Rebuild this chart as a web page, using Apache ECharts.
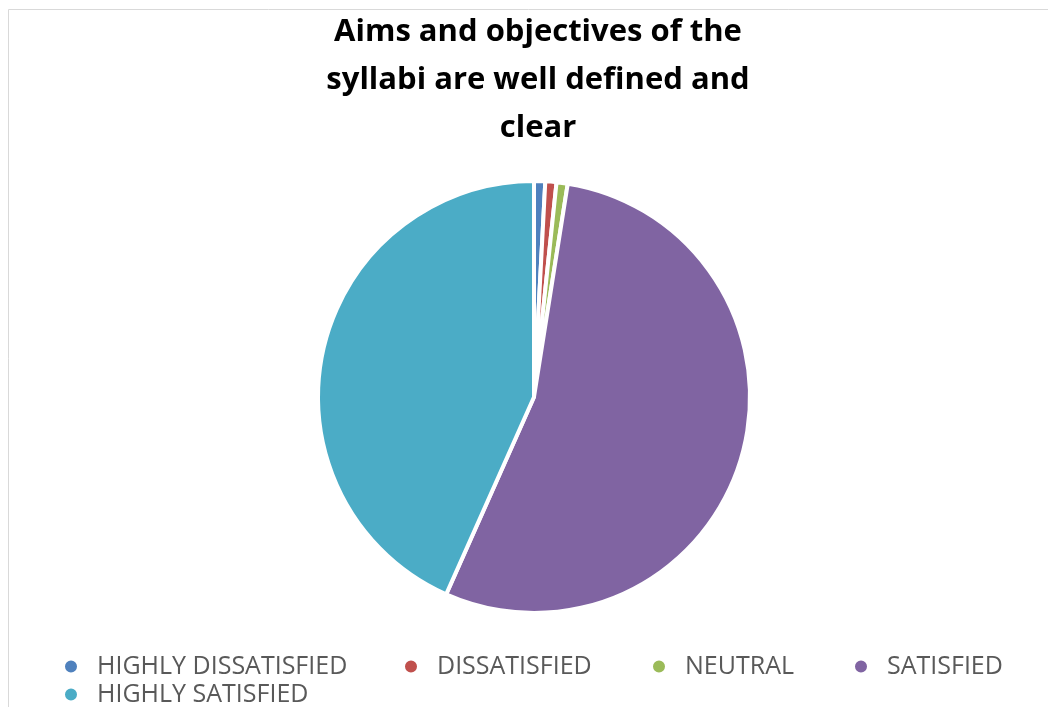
<!DOCTYPE html>
<html><head><meta charset="utf-8">
<script src="https://cdn.jsdelivr.net/npm/echarts@6/dist/echarts.min.js"></script>
<style>html,body{margin:0;padding:0;background:#fff}#c{width:1048px;height:707px}</style>
</head><body><div id="c"></div>
<script>
const categories = ['HIGHLY DISSATISFIED','DISSATISFIED','NEUTRAL','SATISFIED','HIGHLY SATISFIED'];
const values = [1, 1, 1, 65, 52];
const colors = ['#4f81bd','#c0504d','#9bbb59','#8064a2','#4bacc6'];
const titleText = 'Aims and objectives of the\nsyllabi are well defined and\nclear';

const legendPos = [[63,654],[403,654],[651,654],[853,654],[63,682]];
const chart = echarts.init(document.getElementById('c'));
chart.setOption({
  animation: false,
  graphic: [{type:'rect', shape:{x:8.5,y:9.5,width:1100,height:720}, style:{fill:'none',stroke:'#d9d9d9',lineWidth:1}}],
  title: {text: titleText, left: 533, textAlign: 'center', top: 3,
    textStyle:{fontFamily:'Open Sans', fontWeight:'bold', fontSize:31, color:'#000', lineHeight:48}},
  legend: categories.map((c,i)=>({
    data:[c], left: legendPos[i][0], top: legendPos[i][1], padding:0,
    icon: 'circle', itemWidth: 14, itemHeight: 14,
    textStyle:{fontFamily:'Open Sans', fontSize:25, color:'#595959', padding:[0,0,0,14]}
  })),
  series: [{
    type: 'pie', center: [534, 397], radius: 216, startAngle: 90, clockwise: true,
    label: {show:false}, labelLine:{show:false},
    itemStyle:{borderColor:'#fff', borderWidth:4},
    data: categories.map((c,i)=>({name:c, value:values[i], itemStyle:{color:colors[i]}}))
  }]
});
</script></body></html>
